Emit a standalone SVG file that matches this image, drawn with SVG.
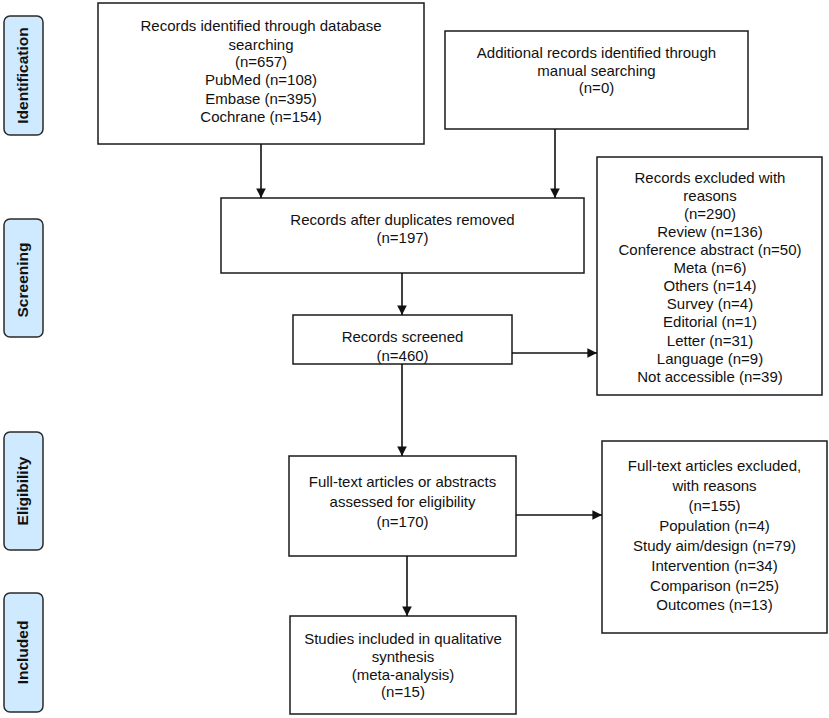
<svg xmlns="http://www.w3.org/2000/svg" width="829" height="718" viewBox="0 0 829 718">
<defs>
<style>
.box{fill:#fff;stroke:#1a1a1a;stroke-width:1.5}
.lab{fill:#cfeaff;stroke:#2a2a2a;stroke-width:1.5}
.t{font-family:"Liberation Sans",Arial,sans-serif;font-size:15px;fill:#111;text-anchor:middle}
.lt{font-family:"Liberation Sans",Arial,sans-serif;font-size:15.5px;font-weight:bold;fill:#111;text-anchor:middle}
.ln{stroke:#111;stroke-width:1.6;fill:none}
</style>
<marker id="ah" viewBox="0 0 10 10" refX="10" refY="5" markerWidth="6" markerHeight="6" markerUnits="strokeWidth" orient="auto">
<path d="M0,0 L10,5 L0,10 z" fill="#111"/>
</marker>
</defs>
<rect width="829" height="718" fill="#fff"/>

<g id="label-identification">
<rect class="lab" x="4" y="16" width="39" height="119" rx="6"/>
<text class="lt" transform="translate(28,75.5) rotate(-90)">Identification</text>
</g>
<g id="label-screening">
<rect class="lab" x="4" y="219" width="39" height="118" rx="6"/>
<text class="lt" transform="translate(28,280) rotate(-90)">Screening</text>
</g>
<g id="label-eligibility">
<rect class="lab" x="4" y="432" width="39" height="118" rx="6"/>
<text class="lt" transform="translate(28,491) rotate(-90)">Eligibility</text>
</g>
<g id="label-included">
<rect class="lab" x="4" y="593" width="39" height="119" rx="6"/>
<text class="lt" transform="translate(28,652.5) rotate(-90)">Included</text>
</g>

<g id="node-database">
<rect class="box" x="98" y="3" width="326" height="141"/>
<text class="t" x="261" y="31">Records identified through database</text>
<text class="t" x="261" y="50">searching</text>
<text class="t" x="261" y="67">(n=657)</text>
<text class="t" x="261" y="85">PubMed (n=108)</text>
<text class="t" x="261" y="104">Embase (n=395)</text>
<text class="t" x="261" y="122">Cochrane (n=154)</text>
</g>

<g id="node-manual">
<rect class="box" x="445" y="31" width="303" height="98"/>
<text class="t" x="596.5" y="58">Additional records identified through</text>
<text class="t" x="596.5" y="76">manual searching</text>
<text class="t" x="596.5" y="93">(n=0)</text>
</g>

<g id="node-duplicates">
<rect class="box" x="221" y="198" width="363" height="75"/>
<text class="t" x="402.5" y="225">Records after duplicates removed</text>
<text class="t" x="402.5" y="243">(n=197)</text>
</g>

<g id="node-screened">
<rect class="box" x="293" y="315" width="219" height="49"/>
<text class="t" x="402.5" y="342">Records screened</text>
<text class="t" x="402.5" y="361">(n=460)</text>
</g>

<g id="node-excluded1">
<rect class="box" x="597" y="157" width="225" height="238"/>
<text class="t" x="710" y="183">Records excluded with</text>
<text class="t" x="710" y="201">reasons</text>
<text class="t" x="710" y="219">(n=290)</text>
<text class="t" x="710" y="237">Review (n=136)</text>
<text class="t" x="710" y="255">Conference abstract (n=50)</text>
<text class="t" x="710" y="273">Meta (n=6)</text>
<text class="t" x="710" y="291">Others (n=14)</text>
<text class="t" x="710" y="309">Survey (n=4)</text>
<text class="t" x="710" y="327">Editorial (n=1)</text>
<text class="t" x="710" y="346">Letter (n=31)</text>
<text class="t" x="710" y="364">Language (n=9)</text>
<text class="t" x="710" y="382">Not accessible (n=39)</text>
</g>

<g id="node-eligibility">
<rect class="box" x="289" y="456" width="227" height="100"/>
<text class="t" x="402.5" y="487">Full-text articles or abstracts</text>
<text class="t" x="402.5" y="507">assessed for eligibility</text>
<text class="t" x="402.5" y="527">(n=170)</text>
</g>

<g id="node-excluded2">
<rect class="box" x="602" y="441" width="225" height="192"/>
<text class="t" x="714.5" y="471">Full-text articles excluded,</text>
<text class="t" x="714.5" y="491">with reasons</text>
<text class="t" x="714.5" y="511">(n=155)</text>
<text class="t" x="714.5" y="531">Population (n=4)</text>
<text class="t" x="714.5" y="551">Study aim/design (n=79)</text>
<text class="t" x="714.5" y="571">Intervention (n=34)</text>
<text class="t" x="714.5" y="591">Comparison (n=25)</text>
<text class="t" x="714.5" y="610">Outcomes (n=13)</text>
</g>

<g id="node-included">
<rect class="box" x="290" y="616" width="226" height="98"/>
<text class="t" x="403" y="644">Studies included in qualitative</text>
<text class="t" x="403" y="662">synthesis</text>
<text class="t" x="403" y="680">(meta-analysis)</text>
<text class="t" x="403" y="697">(n=15)</text>
</g>

<g id="connectors">
<line class="ln" x1="261" y1="144" x2="261" y2="198" marker-end="url(#ah)"/>
<line class="ln" x1="555" y1="129" x2="555" y2="198" marker-end="url(#ah)"/>
<line class="ln" x1="402" y1="273" x2="402" y2="315" marker-end="url(#ah)"/>
<line class="ln" x1="512" y1="353" x2="597" y2="353" marker-end="url(#ah)"/>
<line class="ln" x1="402" y1="364" x2="402" y2="456" marker-end="url(#ah)"/>
<line class="ln" x1="516" y1="515" x2="602" y2="515" marker-end="url(#ah)"/>
<line class="ln" x1="407" y1="556" x2="407" y2="616" marker-end="url(#ah)"/>
</g>
</svg>
